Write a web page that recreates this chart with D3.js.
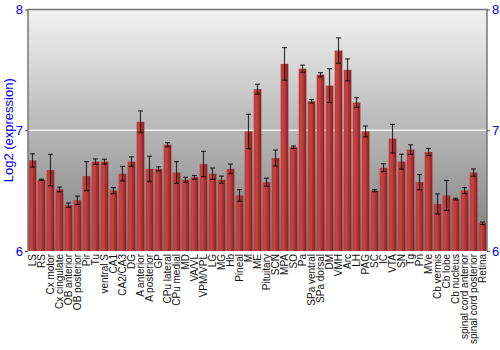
<!DOCTYPE html>
<html>
<head>
<meta charset="utf-8">
<script src="https://cdn.jsdelivr.net/npm/d3@7"></script>
<style>
  body { margin: 0; background: #fff; }
  svg { display: block; font-family: "Liberation Sans", Arial, sans-serif; }
</style>
</head>
<body>
<svg width="500" height="350"></svg>
<script>
var regions = ["LS", "RS", "Cx motor", "Cx cingulate", "OB anterior", "OB posterior", "Pir", "Tu",
  "ventral S", "CA1", "CA2/CA3", "DG", "A anterior", "A posterior", "GP", "CPu lateral", "CPu medial",
  "MD", "VA/VL", "VPM/VPL", "LG", "MG", "Hb", "Pineal", "M", "ME", "Pituitary", "SCN", "MPA", "SO",
  "Pa", "SPa ventral", "SPa dorsal", "DM", "VMH", "Arc", "LH", "PAG", "SC", "IC", "VTA", "SN", "Tg",
  "Pn", "MVe", "Cb vermis", "Cb lobe", "Cb nucleus", "spinal cord anterior", "spinal cord posterior", "Retina"];

var expression = [6.75, 6.59, 6.67, 6.51, 6.38, 6.42, 6.62, 6.74, 6.74, 6.50, 6.64, 6.74, 7.07, 6.68,
  6.68, 6.88, 6.65, 6.59, 6.61, 6.72, 6.64, 6.59, 6.68, 6.46, 6.99, 7.34, 6.57, 6.77, 7.55, 6.86,
  7.51, 7.24, 7.46, 7.37, 7.66, 7.50, 7.23, 6.99, 6.50, 6.69, 6.93, 6.74, 6.84, 6.57, 6.82, 6.39,
  6.46, 6.43, 6.50, 6.65, 6.23];

var errors = [0.055, 0.005, 0.13, 0.02, 0.018, 0.035, 0.12, 0.022, 0.02, 0.025, 0.06, 0.04, 0.09, 0.105,
  0.017, 0.017, 0.09, 0.02, 0.015, 0.105, 0.047, 0.03, 0.04, 0.048, 0.142, 0.041, 0.033, 0.066, 0.135,
  0.01, 0.029, 0.015, 0.017, 0.14, 0.105, 0.091, 0.04, 0.045, 0.008, 0.032, 0.118, 0.062, 0.04, 0.063,
  0.029, 0.083, 0.124, 0.007, 0.025, 0.03, 0.01];

var yTicks = [6, 7, 8];

var svg = d3.select("svg");
var margin = {top: 9.5, right: 13, bottom: 99, left: 28};
var width = 500 - margin.left - margin.right;
var height = 350 - margin.top - margin.bottom;
var g = svg.append("g").attr("transform", "translate(" + margin.left + "," + margin.top + ")");

var x = d3.scaleBand().domain(regions).range([0, width]).paddingInner(0.15).paddingOuter(0.07);
var y = d3.scaleLinear().domain([6, 8]).range([height, 0]);

var defs = svg.append("defs");
var bg = defs.append("linearGradient").attr("id", "bg").attr("x1", 0).attr("y1", 0).attr("x2", 0).attr("y2", 1);
bg.append("stop").attr("offset", "0%").attr("stop-color", "#f2f2f2");
bg.append("stop").attr("offset", "100%").attr("stop-color", "#7c7c7c");

var bar = defs.append("linearGradient").attr("id", "bar").attr("x1", 0).attr("y1", 0).attr("x2", 1).attr("y2", 0);
bar.append("stop").attr("offset", "0%").attr("stop-color", "#b83838");
bar.append("stop").attr("offset", "35%").attr("stop-color", "#c84444");
bar.append("stop").attr("offset", "100%").attr("stop-color", "#8a1e1e");

g.append("rect").attr("width", width).attr("height", height).attr("fill", "url(#bg)");

// grid line at 7
g.append("line")
  .attr("x1", 0).attr("x2", width)
  .attr("y1", y(7)).attr("y2", y(7))
  .attr("stroke", "#f4f4f4").attr("stroke-width", 1.5);

g.selectAll("rect.bar")
  .data(expression)
  .enter().append("rect")
    .attr("class", "bar")
    .attr("x", function(d, i) { return x(regions[i]); })
    .attr("y", function(d) { return y(d); })
    .attr("width", x.bandwidth())
    .attr("height", function(d) { return height - y(d); })
    .attr("fill", "url(#bar)");

// error bars
var eb = g.append("g").attr("stroke", "#000").attr("stroke-opacity", 0.75).attr("stroke-width", 1.2);
expression.forEach(function(v, i) {
  var cx = x(regions[i]) + x.bandwidth() / 2;
  var lo = y(v - errors[i]), hi = y(v + errors[i]);
  eb.append("line").attr("x1", cx).attr("x2", cx).attr("y1", lo).attr("y2", hi);
  eb.append("line").attr("x1", cx - 2.5).attr("x2", cx + 2.5).attr("y1", lo).attr("y2", lo);
  eb.append("line").attr("x1", cx - 2.5).attr("x2", cx + 2.5).attr("y1", hi).attr("y2", hi);
});

// frame
g.append("path")
  .attr("d", "M0," + height + "V0H" + width + "V" + height)
  .attr("fill", "none").attr("stroke", "#777").attr("stroke-width", 1.5);

// y axes
var left = g.append("g").call(d3.axisLeft(y).tickValues(yTicks).tickSize(3).tickFormat(d3.format("d")));
var right = g.append("g").attr("transform", "translate(" + width + ",0)")
  .call(d3.axisRight(y).tickValues(yTicks).tickSize(3).tickFormat(d3.format("d")));
[left, right].forEach(function(a) {
  a.select(".domain").remove();
  a.selectAll("line").attr("stroke", "#555");
  a.selectAll("text").attr("fill", "#0000ff").attr("font-size", 13).attr("font-family", "Liberation Sans, Arial, sans-serif");
});
left.selectAll("text").attr("x", -5);
right.selectAll("text").attr("x", 5);

// x labels
var xa = g.append("g").attr("transform", "translate(0," + height + ")")
  .call(d3.axisBottom(x).tickSize(0));
xa.select(".domain").remove();
xa.selectAll("text")
  .attr("font-size", 10)
  .attr("font-family", "Liberation Sans, Arial, sans-serif")
  .attr("fill", "#111")
  .attr("transform", "rotate(-90)")
  .attr("text-anchor", "end")
  .attr("x", -3)
  .attr("y", 0)
  .attr("dy", "0.35em");

svg.append("text")
  .attr("transform", "translate(13," + (margin.top + y(7)) + ") rotate(-90)")
  .attr("text-anchor", "middle")
  .attr("fill", "#0000ff")
  .attr("font-size", 13)
  .text("Log2 (expression)");
</script>
</body>
</html>
